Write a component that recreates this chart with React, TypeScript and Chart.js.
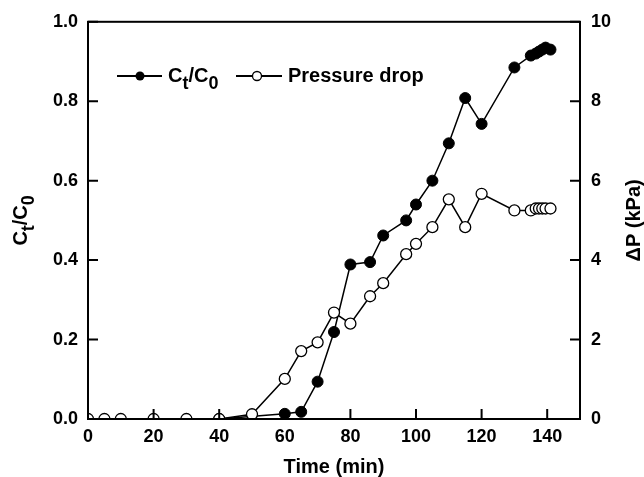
import React, { useEffect, useRef } from "react";
import { Chart, registerables } from "chart.js";
Chart.register(...registerables);

// ---- data ----
const ctTimes = [40, 60, 65, 70, 75, 80, 86, 90, 97, 100, 105, 110, 115, 120, 130, 135, 136.5, 137.5, 138.5, 139.5, 141];
const ctValues = [0, 0.013, 0.018, 0.094, 0.219, 0.389, 0.395, 0.462, 0.5, 0.54, 0.6, 0.694, 0.808, 0.743, 0.885, 0.915, 0.92, 0.925, 0.93, 0.935, 0.93];
const dpTimes = [0, 5, 10, 20, 30, 40, 50, 60, 65, 70, 75, 80, 86, 90, 97, 100, 105, 110, 115, 120, 130, 135, 136.5, 137.5, 138.5, 139.5, 141];
const dpValues = [0, 0, 0, 0, 0, 0, 0.12, 1.01, 1.71, 1.93, 2.68, 2.4, 3.09, 3.42, 4.15, 4.41, 4.83, 5.53, 4.83, 5.67, 5.25, 5.25, 5.3, 5.3, 5.3, 5.3, 5.3];
const xTicks = [0, 20, 40, 60, 80, 100, 120, 140];
const ctTicks = [0, 0.2, 0.4, 0.6, 0.8, 1.0];
const dpTicks = [0, 2, 4, 6, 8, 10];
const xTitle = "Time (min)";
const dpTitle = "ΔP (kPa)";
const ctTitleParts = [
  { t: "C", sub: false },
  { t: "t", sub: true },
  { t: "/C", sub: false },
  { t: "0", sub: true },
];
const dpLegend = "Pressure drop";

const FAMILY = "'Liberation Sans', Arial, Helvetica, sans-serif";
const MAIN_FONT = `bold 20px ${FAMILY}`;
const SUB_FONT = `bold 18px ${FAMILY}`;
const SUB_OFF = 7;

function measureParts(ctx: CanvasRenderingContext2D) {
  let w = 0;
  for (const p of ctTitleParts) {
    ctx.font = p.sub ? SUB_FONT : MAIN_FONT;
    w += ctx.measureText(p.t).width;
  }
  return w;
}

function drawParts(ctx: CanvasRenderingContext2D, x: number, y: number) {
  let cx = x;
  ctx.textAlign = "left";
  ctx.textBaseline = "alphabetic";
  for (const p of ctTitleParts) {
    ctx.font = p.sub ? SUB_FONT : MAIN_FONT;
    ctx.fillText(p.t, cx, y + (p.sub ? SUB_OFF : 0));
    cx += ctx.measureText(p.t).width;
  }
}

const decorPlugin = {
  id: "decor",
  afterDraw(chart: any) {
    const { ctx, chartArea: a, scales } = chart;
    ctx.save();
    ctx.strokeStyle = "#000";
    ctx.fillStyle = "#000";
    ctx.lineWidth = 2;
    ctx.strokeRect(a.left, a.top, a.right - a.left, a.bottom - a.top);
    const L = 10;
    ctx.beginPath();
    for (const v of xTicks) {
      const x = scales.x.getPixelForValue(v);
      ctx.moveTo(x, a.bottom);
      ctx.lineTo(x, a.bottom - L);
    }
    for (const v of ctTicks) {
      const y = scales.y.getPixelForValue(v);
      ctx.moveTo(a.left, y);
      ctx.lineTo(a.left + L, y);
    }
    for (const v of dpTicks) {
      const y = scales.y1.getPixelForValue(v);
      ctx.moveTo(a.right, y);
      ctx.lineTo(a.right - L, y);
    }
    ctx.stroke();

    const midY = (a.top + a.bottom) / 2;
    const midX = (a.left + a.right) / 2;

    // bottom title
    ctx.font = MAIN_FONT;
    ctx.textAlign = "center";
    ctx.textBaseline = "alphabetic";
    ctx.fillText(xTitle, midX, 473);

    // right title
    ctx.save();
    ctx.translate(640, midY);
    ctx.rotate(-Math.PI / 2);
    ctx.font = MAIN_FONT;
    ctx.textAlign = "center";
    ctx.fillText(dpTitle, 0, 0);
    ctx.restore();

    // left title
    ctx.save();
    ctx.translate(27, midY);
    ctx.rotate(-Math.PI / 2);
    const w = measureParts(ctx);
    drawParts(ctx, -w / 2, 0);
    ctx.restore();

    // legend
    const ly = 76;
    ctx.lineWidth = 2;
    ctx.beginPath();
    ctx.moveTo(117, ly);
    ctx.lineTo(162, ly);
    ctx.moveTo(236, ly);
    ctx.lineTo(282, ly);
    ctx.stroke();
    ctx.beginPath();
    ctx.arc(140, ly, 4.5, 0, Math.PI * 2);
    ctx.fill();
    ctx.beginPath();
    ctx.arc(257, ly, 4.5, 0, Math.PI * 2);
    ctx.fillStyle = "#fff";
    ctx.fill();
    ctx.lineWidth = 1.3;
    ctx.stroke();
    ctx.fillStyle = "#000";
    drawParts(ctx, 168, 82);
    ctx.font = MAIN_FONT;
    ctx.textAlign = "left";
    ctx.fillText(dpLegend, 288, 82);
    ctx.restore();
  },
};

export default function App() {
  const ref = useRef<HTMLCanvasElement | null>(null);
  useEffect(() => {
    if (!ref.current) return;
    const tickFont = { family: FAMILY, size: 18, weight: "bold" as const };
    const chart = new Chart(ref.current, {
      type: "line",
      data: {
        datasets: [
          {
            label: "Ct/C0",
            data: ctTimes.map((t, i) => ({ x: t, y: ctValues[i] })),
            yAxisID: "y",
            borderColor: "#000",
            borderWidth: 1.5,
            pointRadius: 5.5,
            pointBackgroundColor: "#000",
            pointBorderColor: "#000",
            pointBorderWidth: 1,
            tension: 0,
            order: 1,
          },
          {
            label: dpLegend,
            data: dpTimes.map((t, i) => ({ x: t, y: dpValues[i] })),
            yAxisID: "y1",
            borderColor: "#000",
            borderWidth: 1.5,
            pointRadius: 5.5,
            pointBackgroundColor: "#fff",
            pointBorderColor: "#000",
            pointBorderWidth: 1.3,
            tension: 0,
            order: 0,
          },
        ],
      },
      options: {
        responsive: false,
        animation: false,
        layout: { padding: { top: 21, left: 0, right: 0, bottom: 0 } },
        plugins: { legend: { display: false }, tooltip: { enabled: false } },
        scales: {
          x: {
            type: "linear",
            min: 0,
            max: 150,
            afterBuildTicks: (s: any) => {
              s.ticks = xTicks.map((v) => ({ value: v }));
            },
            afterFit: (s: any) => {
              s.height = 58;
            },
            grid: { display: false, drawTicks: false },
            border: { display: false },
            ticks: { color: "#000", font: tickFont, padding: 7, maxRotation: 0 },
          },
          y: {
            type: "linear",
            position: "left",
            min: 0,
            max: 1,
            afterBuildTicks: (s: any) => {
              s.ticks = ctTicks.map((v) => ({ value: v }));
            },
            afterFit: (s: any) => {
              s.width = 88;
            },
            grid: { display: false, drawTicks: false },
            border: { display: false },
            ticks: {
              color: "#000",
              font: tickFont,
              padding: 10,
              callback: (v: any) => Number(v).toFixed(1),
            },
          },
          y1: {
            type: "linear",
            position: "right",
            min: 0,
            max: 10,
            afterBuildTicks: (s: any) => {
              s.ticks = dpTicks.map((v) => ({ value: v }));
            },
            afterFit: (s: any) => {
              s.width = 64;
            },
            grid: { display: false, drawTicks: false },
            border: { display: false },
            ticks: {
              color: "#000",
              font: tickFont,
              padding: 11,
              callback: (v: any) => String(Math.round(Number(v))),
            },
          },
        },
      },
      plugins: [decorPlugin],
    });
    return () => chart.destroy();
  }, []);
  return (
    <div style={{ position: "fixed", left: 0, top: 0, width: 644, height: 477, background: "#fff" }}>
      <canvas ref={ref} width={644} height={477} style={{ display: "block" }} />
    </div>
  );
}
